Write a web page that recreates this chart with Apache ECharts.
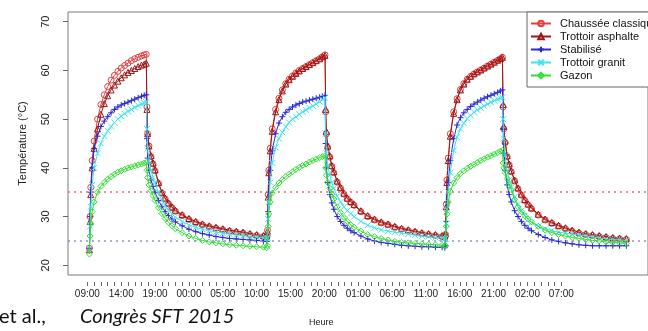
<!DOCTYPE html>
<html>
<head>
<meta charset="utf-8">
<script src="https://cdn.jsdelivr.net/npm/echarts@6/dist/echarts.min.js"></script>
<style>
  html, body { margin: 0; padding: 0; background: #fff; }
  #chart { width: 648px; height: 331px; }
</style>
</head>
<body>
<div id="chart"></div>
<script>
// hours since 09:00 on the first day
var hours = [
  0.3, 0.4, 0.5, 0.7, 1.0, 1.5, 2.0, 2.5, 3.0, 3.5, 4.0, 4.5, 5.0, 5.5, 6.0, 6.5, 7.0, 7.5, 8.0, 8.4, 8.7,
  8.8, 8.9, 9.1, 9.4, 9.7, 10.0, 10.5, 11.0, 11.5, 12.0, 12.5, 13.0, 14.0, 15.0, 16.0, 17.0, 18.0, 19.0, 20.0, 21.0, 22.0, 23.0, 24.0, 25.0, 26.0, 26.5,
  26.6, 26.7, 26.8, 27.0, 27.3, 27.8, 28.3, 28.8, 29.3, 29.8, 30.3, 30.8, 31.3, 31.8, 32.3, 32.8, 33.3, 33.8, 34.3, 34.7, 35.1,
  35.2, 35.3, 35.5, 35.8, 36.1, 36.4, 36.9, 37.4, 37.9, 38.4, 38.9, 39.4, 40.4, 41.4, 42.4, 43.4, 44.4, 45.4, 46.4, 47.4, 48.4, 49.4, 50.4, 51.4, 52.4, 52.8,
  52.9, 53.0, 53.1, 53.3, 53.6, 54.1, 54.6, 55.1, 55.6, 56.1, 56.6, 57.1, 57.6, 58.1, 58.6, 59.1, 59.6, 60.1, 60.6, 61.0, 61.3,
  61.4, 61.5, 61.7, 62.0, 62.3, 62.6, 63.1, 63.6, 64.1, 64.6, 65.1, 65.6, 66.6, 67.6, 68.6, 69.6, 70.6, 71.6, 72.6, 73.6, 74.6, 75.6, 76.6, 77.6, 78.6, 79.6
]

var chausseeClassique = [
  23.5, 30, 36, 41.5, 45.5, 50, 53, 55, 56.7, 58, 59, 59.8, 60.5, 61, 61.5, 62, 62.4, 62.7, 63, 63.2, 63.3,
  52.5, 47, 44.5, 42.3, 40.8, 39.4, 36.8, 34.8, 33.6, 32.6, 31.8, 31.1, 30.2, 29.4, 28.8, 28.3, 27.9, 27.6, 27.3, 27, 26.8, 26.6, 26.3, 26.1, 25.9, 25.8,
  27.2, 34.5, 39.5, 44, 48, 52, 54.3, 56, 57.3, 58.2, 58.9, 59.5, 60, 60.4, 60.8, 61.2, 61.6, 62, 62.4, 62.8, 63.2,
  51.5, 47, 44.2, 42.2, 40.3, 39, 37.1, 35.8, 34.6, 33.6, 32.9, 32.3, 31, 30, 29.3, 28.7, 28.3, 27.8, 27.4, 27.1, 26.8, 26.5, 26.3, 26.1, 25.9, 25.8,
  26.3, 32.5, 37.5, 42, 47, 51.5, 54.2, 56.1, 57.3, 58.2, 58.8, 59.3, 59.7, 60.1, 60.5, 60.9, 61.3, 61.7, 62.1, 62.4, 62.7,
  52.5, 48, 45.2, 42.3, 40.6, 39.2, 37.3, 35.7, 34.4, 33.3, 32.4, 31.6, 30.3, 29.3, 28.6, 28, 27.5, 27, 26.6, 26.3, 26.1, 25.9, 25.7, 25.5, 25.4, 25.3
]

var trottoirAsphalte = [
  23.2, 29, 34.5, 40, 44, 48, 51, 53.2, 54.8, 56, 57, 57.8, 58.5, 59.1, 59.6, 60, 60.4, 60.8, 61.1, 61.3, 61.5,
  52, 47, 44.5, 42.5, 41, 39.6, 37, 35, 33.8, 32.8, 32, 31.3, 30.4, 29.6, 29, 28.5, 28.1, 27.8, 27.5, 27.2, 27, 26.8, 26.5, 26.3, 26.1, 26,
  27, 34, 39, 43.5, 47.5, 51.5, 54, 55.8, 57.2, 58.1, 58.8, 59.4, 59.9, 60.4, 60.8, 61.2, 61.6, 62, 62.4, 62.8, 63.1,
  52, 47.5, 44.5, 42.5, 40.5, 39.2, 37.3, 36, 34.8, 33.8, 33.1, 32.5, 31.2, 30.2, 29.5, 28.9, 28.5, 28, 27.6, 27.3, 27, 26.7, 26.5, 26.3, 26.1, 26,
  26.5, 32, 37, 41.5, 46.5, 51.2, 54, 56, 57.2, 58.2, 58.8, 59.3, 59.7, 60.1, 60.5, 60.9, 61.3, 61.7, 62.1, 62.4, 62.7,
  53, 48.5, 45.5, 42.5, 40.8, 39.4, 37.5, 35.9, 34.6, 33.5, 32.6, 31.8, 30.5, 29.5, 28.8, 28.2, 27.7, 27.2, 26.8, 26.5, 26.3, 26.1, 25.9, 25.7, 25.6, 25.5
]

var stabilise = [
  23.5, 30, 35, 40, 44, 46.5, 48.5, 49.6, 50.5, 51.3, 52, 52.5, 52.9, 53.2, 53.5, 53.8, 54.1, 54.4, 54.7, 54.9, 55,
  46, 42, 39.5, 37.5, 36.2, 35, 33.3, 32, 31, 30.2, 29.5, 28.9, 28.1, 27.4, 26.9, 26.5, 26.2, 25.9, 25.7, 25.5, 25.4, 25.3, 25.2, 25.1, 25, 24.9,
  26, 31, 35, 39.5, 43.5, 47, 49.2, 50.5, 51.4, 52, 52.5, 52.9, 53.2, 53.5, 53.7, 53.9, 54.1, 54.3, 54.5, 54.7, 54.9,
  45, 40, 37, 34.5, 32.8, 31.5, 30, 29, 28.2, 27.6, 27.1, 26.7, 26, 25.4, 25, 24.7, 24.5, 24.3, 24.1, 24, 23.9, 23.8, 23.8, 23.7, 23.7, 23.6,
  24, 29, 33, 37, 41.5, 46, 48.8, 50.3, 51.3, 52, 52.6, 53.1, 53.5, 53.9, 54.3, 54.6, 54.9, 55.2, 55.5, 55.8, 56,
  48, 43, 39.5, 36.5, 34.5, 33, 31.2, 30, 29, 28.2, 27.6, 27.1, 26.3, 25.7, 25.2, 24.9, 24.6, 24.4, 24.2, 24.1, 24, 24, 24, 24, 24, 24
]

var trottoirGranit = [
  23.5, 28, 32, 36.5, 40, 43, 45, 46.5, 47.6, 48.5, 49.3, 50, 50.6, 51.1, 51.6, 52, 52.4, 52.8, 53.1, 53.3, 53.5,
  48, 44, 41.5, 39.5, 38, 36.8, 35, 33.3, 32.2, 31.3, 30.5, 29.9, 29, 28.3, 27.8, 27.4, 27.1, 26.8, 26.6, 26.4, 26.2, 26.1, 25.9, 25.8, 25.6, 25.5,
  25.6, 29.5, 33, 37, 41, 44.2, 46, 47.3, 48.4, 49.3, 50, 50.5, 51, 51.5, 51.9, 52.3, 52.7, 53.1, 53.6, 54, 54.4,
  47, 43, 40.5, 38.5, 37, 35.8, 34.2, 33, 32, 31.2, 30.6, 30, 29, 28.2, 27.7, 27.3, 27, 26.8, 26.6, 26.4, 26.2, 26, 25.9, 25.7, 25.6, 25.5,
  25.5, 28.5, 31.5, 35, 39, 43.6, 46.3, 48, 49.2, 50.1, 50.8, 51.4, 51.9, 52.3, 52.7, 53.1, 53.5, 53.8, 54.1, 54.3, 54.5,
  50, 46, 42.5, 39.5, 37.5, 36, 34, 32.5, 31.2, 30.2, 29.4, 28.8, 28, 27.5, 27.1, 26.8, 26.6, 26.4, 26.2, 26, 25.8, 25.6, 25.4, 25.3, 25.2, 25.1
]

var gazon = [
  22.3, 26, 28.5, 31, 33, 35, 36.2, 37, 37.7, 38.2, 38.7, 39.1, 39.4, 39.7, 40, 40.2, 40.4, 40.6, 40.8, 41, 41.1,
  39.5, 38, 36.5, 35.3, 34.3, 33.3, 31.8, 30.6, 29.6, 28.8, 28.1, 27.5, 26.7, 26, 25.5, 25.1, 24.8, 24.6, 24.4, 24.2, 24.1, 24, 23.9, 23.8, 23.7, 23.6,
  24, 28, 30.5, 33, 34.8, 36, 36.9, 37.6, 38.2, 38.7, 39.2, 39.7, 40.1, 40.5, 40.8, 41.2, 41.5, 41.8, 42.1, 42.3, 42.5,
  40, 38.5, 37, 35.8, 34.6, 33.6, 32, 30.8, 29.8, 29, 28.3, 27.8, 27, 26.3, 25.9, 25.5, 25.2, 24.9, 24.7, 24.6, 24.5, 24.4, 24.3, 24.2, 24.1, 24.1,
  24, 28, 30.5, 33, 35.2, 36.9, 38, 38.8, 39.4, 39.9, 40.3, 40.7, 41.1, 41.5, 41.9, 42.2, 42.5, 42.8, 43.1, 43.4, 43.6,
  41, 40, 39, 37.8, 36.5, 35.5, 33.5, 32, 31, 30.2, 29.5, 28.9, 28, 27.2, 26.7, 26.3, 26, 25.7, 25.5, 25.3, 25.1, 25, 24.8, 24.7, 24.6, 24.5
]

var seriesNames = ['Chaussée classique', 'Trottoir asphalte', 'Stabilisé', 'Trottoir granit', 'Gazon']
var xTickLabels = ['09:00', '14:00', '19:00', '00:00', '05:00', '10:00', '15:00', '20:00', '01:00', '06:00', '11:00', '16:00', '21:00', '02:00', '07:00']
var xLabelHours = [0, 5, 10, 15, 20, 25, 30, 35, 40, 45, 50, 55, 60, 65, 70]
var yTicks = [20, 30, 40, 50, 60, 70]
var refLines = [35, 25]

var hourTicks = []
for (var h = 0; h <= 70; h++) hourTicks.push(h)

var colors = ['#e3403f', '#9e1414', '#2a2ad2', '#40e2ef', '#33de33']
var symbols = [
  'circle',
  'triangle',
  'path://M0,5L10,5M5,0L5,10',
  'path://M0,0L10,10M10,0L0,10',
  'diamond'
]
var allValues = [chausseeClassique, trottoirAsphalte, stabilise, trottoirGranit, gazon]

var chart = echarts.init(document.getElementById('chart'))

var series = allValues.map(function (vals, k) {
  return {
    name: seriesNames[k],
    type: 'line',
    data: hours.map(function (t, i) { return [t, vals[i]] }),
    symbol: symbols[k],
    symbolSize: 6,
    showSymbol: true,
    showAllSymbol: true,
    lineStyle: { color: colors[k], width: 1 },
    itemStyle: { color: 'rgba(0,0,0,0)', borderColor: colors[k], borderWidth: 1 },
    emphasis: { disabled: true },
    z: 2 + k,
  }
})

series.push({
  name: 'refs',
  type: 'line',
  data: [],
  silent: true,
  markLine: {
    silent: true,
    symbol: 'none',
    label: { show: false },
    data: [
      { yAxis: refLines[0], lineStyle: { color: '#e0707a', type: [2, 4], width: 1.5 } },
      { yAxis: refLines[1], lineStyle: { color: '#8a94d4', type: [2, 4], width: 1.5 } },
    ],
  },
})

var option = {
  animation: false,
  textStyle: { fontFamily: 'Liberation Sans' },
  grid: {
    left: 68,
    top: 12,
    right: -20,
    bottom: 56,
    show: true,
    borderColor: '#7a7a7a',
    borderWidth: 1,
  },
  legend: {
    data: seriesNames,
    orient: 'vertical',
    left: 527,
    top: 12,
    backgroundColor: '#fff',
    borderColor: '#666',
    borderWidth: 1,
    padding: [5, 40, 5, 3],
    itemGap: 0,
    itemWidth: 20,
    itemHeight: 7,
    textStyle: { fontSize: 11, lineHeight: 13, color: '#111', padding: [0, 0, 0, 4] },
  },
  xAxis: {
    type: 'value',
    min: -2.86,
    max: 82.8,
    offset: 7,
    axisLine: { show: false, onZero: false },
    splitLine: { show: false },
    axisTick: { customValues: hourTicks, length: 4, lineStyle: { color: '#666' } },
    axisLabel: {
      customValues: xLabelHours,
      fontSize: 10,
      color: '#222',
      margin: 7,
      formatter: function (v) {
        var i = xLabelHours.indexOf(Math.round(v))
        return i >= 0 ? xTickLabels[i] : ''
      },
    },
  },
  yAxis: {
    type: 'value',
    min: 18,
    max: 72,
    name: 'Température (°C)',
    nameLocation: 'middle',
    nameGap: 40,
    nameTextStyle: { fontSize: 11, color: '#222' },
    axisLine: { show: false, onZero: false },
    splitLine: { show: false },
    axisTick: { show: true, inside: false, customValues: yTicks, length: 5, lineStyle: { color: '#666' } },
    axisLabel: { customValues: yTicks, rotate: 90, fontSize: 11, color: '#222', margin: 17 },
  },
  graphic: [
    {
      type: 'text',
      left: 309,
      top: 318,
      style: { text: 'Heure', font: '9px "Liberation Sans"', fill: '#222' },
    },
    {
      type: 'text',
      left: -1,
      top: 307,
      style: { text: 'et al.,', font: '20px Lato', fill: '#111' },
    },
    {
      type: 'text',
      left: 80,
      top: 307,
      style: { text: 'Congrès SFT 2015', font: 'italic 20px Lato', fill: '#111' },
    },
  ],
  series: series,
}

chart.setOption(option)
</script>
</body>
</html>
